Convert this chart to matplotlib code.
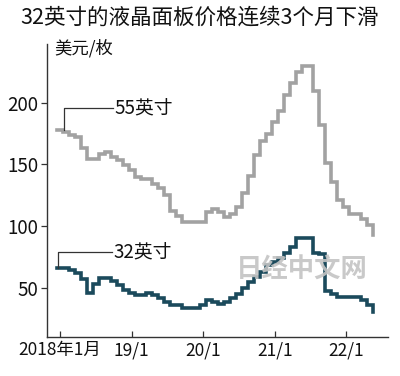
import matplotlib
matplotlib.use("Agg")
import matplotlib.pyplot as plt
import numpy as np

plt.rcParams['font.family'] = ['Noto Sans CJK SC', 'DejaVu Sans']

title = "32英寸的液晶面板价格连续3个月下滑"
unit = "美元/枚"
tick_months = [0, 12, 24, 36, 48]
tick_labels = ["2018年1月", "19/1", "20/1", "21/1", "22/1"]
y_ticks = [50, 100, 150, 200]

price_55 = [178, 176, 174, 172, 163, 154, 154, 158, 160, 156, 153.5, 149.5, 145.5, 140,
            138.5, 138.5, 134, 130.5, 125, 112.5, 108, 103.5, 103.5, 103.5, 103.5, 111.5,
            114, 111.5, 107.5, 109.5, 115.5, 127, 140.5, 157.5, 169, 175, 184.5, 193.5,
            206, 216, 225, 230, 230, 209.5, 182, 151, 136, 121, 115.5, 110, 110, 106, 101, 93]
price_32 = [66, 66, 64.5, 61.5, 57, 46, 53, 57.5, 57.5, 55.5, 52, 48.5, 45.5, 44, 44, 46,
            44, 41.5, 38.5, 36, 36, 33.5, 33.5, 33.5, 36, 40, 38, 36.5, 38, 41.5, 44.5,
            49.5, 55, 59, 63, 68, 70.5, 74, 78.5, 83, 90.5, 90.5, 90.5, 78, 77, 47, 44.5,
            42.5, 42.5, 42.5, 42.5, 40, 36, 30]

fig = plt.figure(figsize=(4.0, 3.76), dpi=100)
ax = fig.add_axes([0.1175, 0.1037, 0.8525, 0.7793])

x55 = np.arange(len(price_55)) - 0.5
x32 = np.arange(len(price_32)) - 0.5
ax.plot(x55, price_55, drawstyle='steps-post', color='#a2a2a2', lw=2.6,
        solid_joinstyle='miter')
ax.plot(x32, price_32, drawstyle='steps-post', color='#1b4a5c', lw=2.6,
        solid_joinstyle='miter')

# leader lines + labels
ax.plot([0.67, 0.67, 8.9], [price_55[0], 195.7, 195.7], color='#333333', lw=0.9)
ax.text(9.1, 195.7, "55英寸", fontsize=13.5, va='center', ha='left', color='#111111')
ax.plot([-0.3, -0.3, 8.7], [price_32[0], 79.2, 79.2], color='#333333', lw=0.9)
ax.text(8.9, 79.2, "32英寸", fontsize=13.5, va='center', ha='left', color='#111111')

ax.set_xlim(-2.18, 55.0)
ax.set_ylim(10, 247.6)
ax.set_xticks(tick_months)
ax.set_xticklabels(tick_labels)
ax.set_yticks(y_ticks)

for s in ['top', 'right']:
    ax.spines[s].set_visible(False)
for s in ['left', 'bottom']:
    ax.spines[s].set_color('#333333')
    ax.spines[s].set_linewidth(1.0)

ax.tick_params(axis='x', direction='in', length=4, width=0.9, colors='#333333',
               labelsize=12.5, labelcolor='#111111', pad=3)
ax.tick_params(axis='y', direction='out', length=4, width=0.9, colors='#333333',
               labelsize=13.5, labelcolor='#111111', pad=2)

fig.text(0.5, 0.952, title, ha='center', va='center', fontsize=15.5, color='#111111')
ax.text(0.02, 0.985, unit, transform=ax.transAxes, ha='left', va='center',
        fontsize=12.5, color='#111111')

# watermark
ax.text(0.748, 0.229, "日经中文网", transform=ax.transAxes, ha='center', va='center',
        fontsize=19, color='#c4c4c4', alpha=0.9, fontweight='bold')

fig.savefig("out.png", dpi=100)
